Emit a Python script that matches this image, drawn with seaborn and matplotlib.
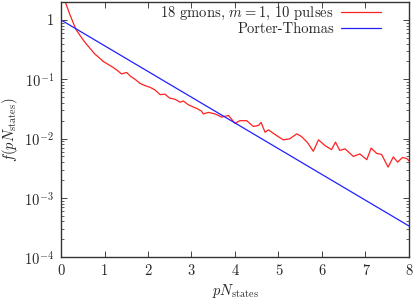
import numpy as np
import pandas as pd
import matplotlib
matplotlib.use("Agg")
import matplotlib.pyplot as plt
import seaborn as sns
from matplotlib.ticker import FixedLocator, FixedFormatter, LogLocator, NullFormatter

red_x = [0.0, 0.05, 0.1, 0.2, 0.34, 0.45, 0.55, 0.67, 0.78, 0.88, 0.97, 1.1, 1.2, 1.3,
         1.39, 1.51, 1.6, 1.7, 1.82, 1.93, 2.05, 2.16, 2.28, 2.39, 2.5, 2.62, 2.74, 2.81,
         2.93, 3.04, 3.13, 3.23, 3.27, 3.39, 3.54, 3.62, 3.69, 3.85, 4.0, 4.11, 4.27,
         4.42, 4.54, 4.6, 4.69, 4.77, 4.92, 5.11, 5.26, 5.42, 5.53, 5.67, 5.8, 5.92,
         6.07, 6.22, 6.31, 6.41, 6.53, 6.72, 6.87, 7.03, 7.13, 7.26, 7.37, 7.52, 7.64,
         7.74, 7.85, 7.95, 8.0]
red_y = [6.0, 3.2, 2.0, 1.25, 0.70, 0.53, 0.42, 0.33, 0.265, 0.23, 0.20, 0.175, 0.158, 0.14,
         0.123, 0.13, 0.112, 0.10, 0.085, 0.078, 0.073, 0.066, 0.055, 0.056, 0.048, 0.046,
         0.041, 0.043, 0.037, 0.034, 0.032, 0.029, 0.026, 0.0276, 0.026, 0.0245, 0.023,
         0.0245, 0.018, 0.020, 0.020, 0.016, 0.0166, 0.0187, 0.0128, 0.014, 0.0117,
         0.0095, 0.0099, 0.012, 0.0108, 0.0085, 0.0061, 0.0095, 0.0076, 0.0065, 0.0087,
         0.0063, 0.0067, 0.005, 0.0055, 0.0044, 0.0069, 0.0056, 0.0054, 0.0033, 0.0049,
         0.0040, 0.0048, 0.0046, 0.0042]

# Porter-Thomas reference (straight line on log scale)
pt_x = [0.0, 8.0]
pt_y = [1.0, 3.35e-4]

ytick_vals = [1e-4, 1e-3, 1e-2, 1e-1, 1]
ytick_labels = [r"$10^{-4}$", r"$10^{-3}$", r"$10^{-2}$", r"$10^{-1}$", "1"]
xtick_vals = [0, 1, 2, 3, 4, 5, 6, 7, 8]

sns.set_style("ticks")
plt.rcParams["font.family"] = ["cmr10", "DejaVu Serif"]
plt.rcParams["mathtext.fontset"] = "cm"
plt.rcParams["axes.formatter.use_mathtext"] = True
plt.rcParams["axes.unicode_minus"] = False
plt.rcParams["font.size"] = 10.5

fig = plt.figure(figsize=(4.15, 2.99), dpi=100)
ax = fig.add_axes([0.147, 0.140, 0.8385, 0.853])

red = pd.DataFrame({"x": red_x, "y": red_y})
pt = pd.DataFrame({"x": pt_x, "y": pt_y})
sns.lineplot(data=red, x="x", y="y", ax=ax, color="#ff2020", lw=0.9,
             label=r"18 gmons, $m=1$, 10 pulses", estimator=None, sort=False)
sns.lineplot(data=pt, x="x", y="y", ax=ax, color="#2020ff", lw=0.9,
             label="Porter-Thomas", estimator=None, sort=False)

ax.set_yscale("log")
ax.set_xlim(0, 8)
ax.set_ylim(1e-4, 2)
ax.yaxis.set_major_locator(FixedLocator(ytick_vals))
ax.yaxis.set_major_formatter(FixedFormatter(ytick_labels))
ax.yaxis.set_minor_locator(LogLocator(base=10, subs=np.arange(2, 10)))
ax.yaxis.set_minor_formatter(NullFormatter())
ax.set_xticks(xtick_vals)
ax.set_xticklabels([str(v) for v in xtick_vals])

ax.tick_params(which="both", direction="in", top=True, right=True, labelsize=10.5, pad=5)
ax.tick_params(which="major", length=4, width=0.6)
ax.tick_params(which="minor", length=2, width=0.5)
for s in ax.spines.values():
    s.set_linewidth(1.0)
    s.set_color("#333333")

ax.set_xlabel(r"$pN_{\rm states}$", fontsize=10.5, labelpad=3)
ax.set_ylabel(r"$f(pN_{\rm states})$", fontsize=10.5, labelpad=3)

ax.legend(loc="upper right", frameon=False, markerfirst=False, fontsize=10.5,
          handlelength=2.7, labelspacing=0.0, borderaxespad=0.0,
          handletextpad=0.5, bbox_to_anchor=(0.935, 1.01))

fig.savefig("out.png", dpi=100)
